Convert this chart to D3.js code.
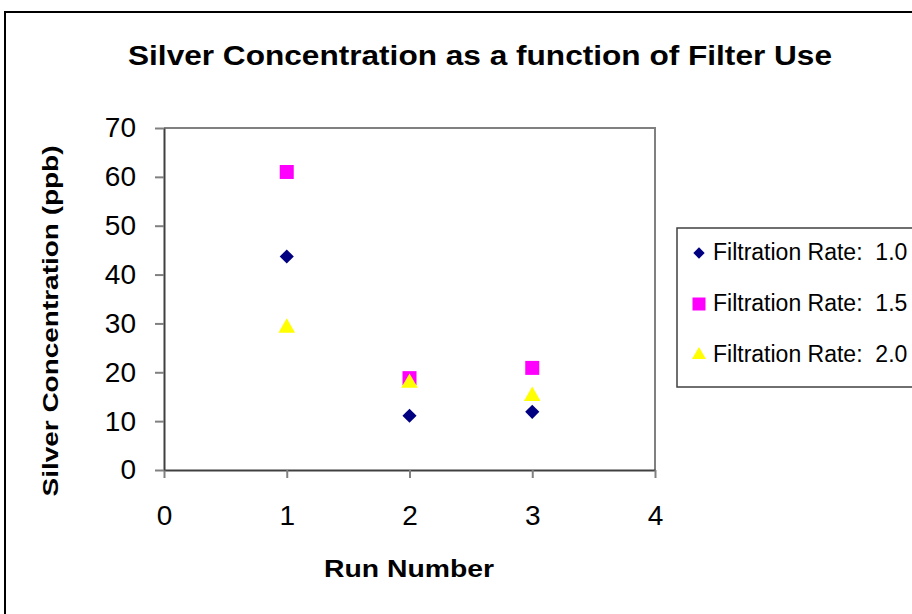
<!DOCTYPE html>
<meta charset="utf-8">
<style>
	body { margin: 0; background: #fff; }
	text { font-family: "Liberation Sans", Arial, sans-serif; fill: #000; }
	.axis path { stroke: #404040; stroke-width: 2; }
	.axis line { stroke: #808080; stroke-width: 2; }
	.axis text { font-size: 28px; }
</style>

<div class="chart"></div>

<script src="https://d3js.org/d3.v7.min.js"></script>

<script>
	var runs = [1, 2, 3];
	var rate10 = [43.7, 11.1, 11.9];
	var rate15 = [61.0, 18.8, 20.9];
	var rate20 = [29.1, 17.8, 15.1];
	var seriesNames = ["Filtration Rate:\u00a0 1.0", "Filtration Rate:\u00a0 1.5", "Filtration Rate:\u00a0 2.0"];
	var xTicks = [0, 1, 2, 3, 4];
	var yTicks = [0, 10, 20, 30, 40, 50, 60, 70];

	// diamond = square turned 45 degrees
	var series = [
		{name: seriesNames[0], values: rate10, shape: d3.symbolSquare, rot: 45, color: "#000080", size: 100, lsize: 64},
		{name: seriesNames[1], values: rate15, shape: d3.symbolSquare, rot: 0, color: "#ff00ff", size: 196, lsize: 169},
		{name: seriesNames[2], values: rate20, shape: d3.symbolTriangle, rot: 0, color: "#ffff00", size: 120, lsize: 85}
	];

	var W = 912, H = 614;
	var margin = {top: 128, left: 164, right: 257, bottom: 144};

	var svg = d3.select(".chart").append("svg")
			.attr("width", W)
			.attr("height", H);

	// outer frame
	svg.append("rect")
			.attr("x", 5).attr("y", 12)
			.attr("width", 940).attr("height", 640)
			.attr("fill", "none").attr("stroke", "#000").attr("stroke-width", 2);

	svg.append("text")
			.attr("x", 480).attr("y", 65)
			.attr("text-anchor", "middle")
			.attr("textLength", 704).attr("lengthAdjust", "spacingAndGlyphs")
			.style("font-size", "28px").style("font-weight", "bold")
			.text("Silver Concentration as a function of Filter Use");

	var x = d3.scaleLinear().domain([0, 4]).range([margin.left, W - margin.right]);
	var y = d3.scaleLinear().domain([0, 70]).range([H - margin.bottom, margin.top]);

	// plot area border (top/right)
	svg.append("path")
			.attr("d", "M" + x(0) + "," + y(70) + "H" + x(4) + "V" + y(0))
			.attr("fill", "none").attr("stroke", "#808080").attr("stroke-width", 2);

	var xAxis = svg.append("g")
			.attr("class", "axis")
			.attr("transform", "translate(0," + y(0) + ")")
			.call(d3.axisBottom(x).tickValues(xTicks).tickFormat(d3.format("d")).tickSize(8).tickSizeOuter(0));
	xAxis.selectAll(".tick text").attr("dy", "0").attr("y", 55);

	var yAxis = svg.append("g")
			.attr("class", "axis")
			.attr("transform", "translate(" + x(0) + ",0)")
			.call(d3.axisLeft(y).tickValues(yTicks).tickSize(9).tickSizeOuter(0).tickPadding(19));

	svg.append("text")
			.attr("transform", "translate(58," + 321 + ") rotate(-90)")
			.attr("text-anchor", "middle")
			.attr("textLength", 351).attr("lengthAdjust", "spacingAndGlyphs")
			.style("font-size", "22px").style("font-weight", "bold")
			.text("Silver Concentration (ppb)");

	svg.append("text")
			.attr("x", 409).attr("y", 577)
			.attr("text-anchor", "middle")
			.attr("textLength", 170).attr("lengthAdjust", "spacingAndGlyphs")
			.style("font-size", "23px").style("font-weight", "bold")
			.text("Run Number");

	series.forEach(function(s) {
		svg.append("g").selectAll("path")
				.data(s.values)
				.enter().append("path")
				.attr("d", d3.symbol().type(s.shape).size(s.size))
				.attr("transform", function(d, i) {
					return "translate(" + x(runs[i]) + "," + y(d) + ") rotate(" + s.rot + ")";
				})
				.attr("fill", s.color);
	});

	// legend
	var legend = svg.append("g");
	legend.append("rect")
			.attr("x", 677).attr("y", 228)
			.attr("width", 260).attr("height", 159)
			.attr("fill", "#fff").attr("stroke", "#404040").attr("stroke-width", 1.5);

	var items = legend.selectAll(".item")
			.data(series)
			.enter().append("g")
			.attr("transform", function(d, i) { return "translate(0," + (260 + i * 51) + ")"; });
	items.append("path")
			.attr("d", function(d) { return d3.symbol().type(d.shape).size(d.lsize)(); })
			.attr("transform", function(d) { return "translate(699,-7) rotate(" + d.rot + ")"; })
			.attr("fill", function(d) { return d.color; });
	items.append("text")
			.attr("x", 713)
			.style("font-size", "23px")
			.text(function(d) { return d.name; });
</script>
